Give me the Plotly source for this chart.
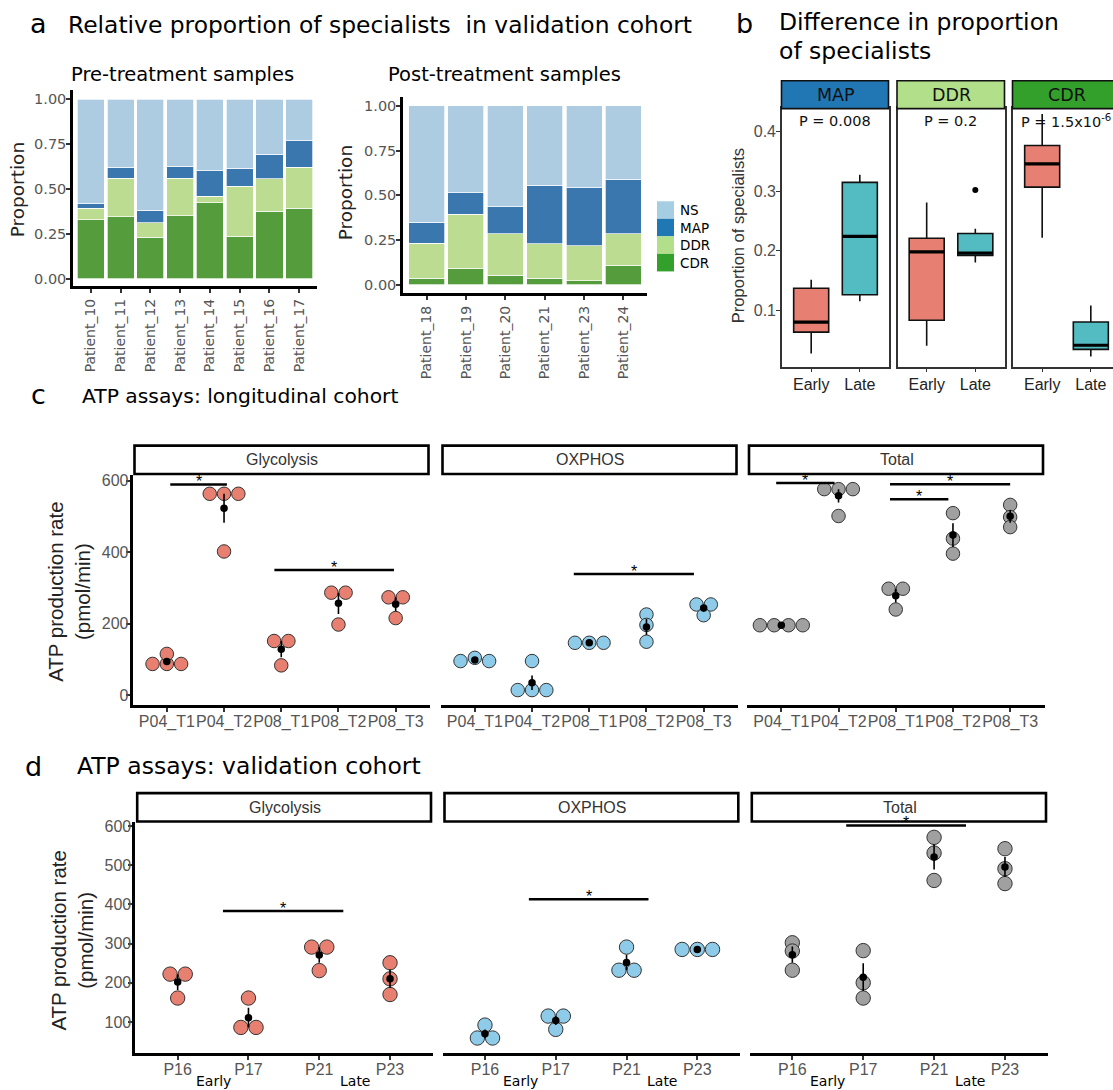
import math
import statistics
import plotly.graph_objects as go

W, H = 1113, 1090

# ---------------- data: panel a ----------------
stack_order = ["CDR", "DDR", "MAP", "NS"]
legend_order = ["NS", "MAP", "DDR", "CDR"]
pre_patients = ["Patient_10", "Patient_11", "Patient_12", "Patient_13",
                "Patient_14", "Patient_15", "Patient_16", "Patient_17"]
pre_CDR = [0.330, 0.346, 0.230, 0.350, 0.424, 0.237, 0.376, 0.393]
pre_DDR = [0.063, 0.213, 0.083, 0.209, 0.037, 0.278, 0.180, 0.229]
pre_MAP = [0.026, 0.063, 0.068, 0.067, 0.141, 0.100, 0.138, 0.148]
pre_NS = [0.581, 0.378, 0.619, 0.374, 0.398, 0.385, 0.306, 0.230]
post_patients = ["Patient_18", "Patient_19", "Patient_20", "Patient_21",
                 "Patient_23", "Patient_24"]
post_CDR = [0.035, 0.093, 0.052, 0.037, 0.022, 0.110]
post_DDR = [0.197, 0.301, 0.234, 0.192, 0.197, 0.176]
post_MAP = [0.116, 0.121, 0.149, 0.327, 0.324, 0.303]
post_NS = [0.652, 0.485, 0.565, 0.444, 0.457, 0.411]
proportion_ticks = [0, 0.25, 0.5, 0.75, 1.0]
proportion_ticktext = ["0.00", "0.25", "0.50", "0.75", "1.00"]

# ---------------- data: panel b (lowerfence, q1, median, q3, upperfence) ----------------
box_groups = ["Early", "Late"]
specialist_types = ["MAP", "DDR", "CDR"]
map_early = [0.027, 0.063, 0.080, 0.137, 0.151]
map_late = [0.115, 0.126, 0.224, 0.315, 0.328]
ddr_early = [0.040, 0.083, 0.198, 0.221, 0.281]
ddr_late = [0.180, 0.192, 0.196, 0.229, 0.237]
cdr_early = [0.222, 0.307, 0.346, 0.377, 0.430]
cdr_late = [0.022, 0.034, 0.041, 0.080, 0.108]
ddr_late_outliers = [0.302]
p_values = ["P = 0.008", "P = 0.2", "P = 1.5x10<sup>-6</sup>"]
b_ticks = [0.1, 0.2, 0.3, 0.4]

# ---------------- data: panel c (longitudinal) ----------------
c_samples = ["P04_T1", "P04_T2", "P08_T1", "P08_T2", "P08_T3"]
c_glyco = [[88, 88, 88, 116], [563, 563, 563, 402], [152, 152, 84], [287, 287, 198], [274, 274, 216]]
c_oxphos = [[96, 105, 96], [15, 15, 15, 96], [147, 147, 147], [226, 197, 150], [254, 254, 224]]
c_total = [[196, 196, 196, 196], [576, 576, 576, 501], [298, 298, 240], [509, 438, 396], [532, 498, 470]]
c_sig_glyco = [(1.06, 2.05, 589), (2.88, 4.97, 350)]
c_sig_oxphos = [(2.73, 4.83, 339)]
c_sig_total = [(0.91, 1.93, 593), (2.90, 5.00, 590), (2.90, 3.92, 548)]
c_yticks = [0, 200, 400, 600]

# ---------------- data: panel d (validation) ----------------
d_samples = ["P16", "P17", "P21", "P23"]
d_stage = ["Early", "Late"]
d_glyco = [[222, 222, 161], [161, 86, 86], [291, 291, 231], [251, 210, 170]]
d_oxphos = [[92, 59, 59], [115, 115, 81], [291, 232, 232], [285, 285, 285]]
d_total = [[302, 281, 232], [282, 200, 161], [571, 531, 461], [542, 491, 453]]
d_sig_glyco = [(1.64, 3.34, 383)]
d_sig_oxphos = [(1.62, 3.31, 413)]
d_sig_total = [(1.76, 3.45, 601)]
d_yticks = [100, 200, 300, 400, 500, 600]

facet_names = ["Glycolysis", "OXPHOS", "Total"]

# ---------------- styles ----------------
bar_colors = {"NS": "#ADCBE1", "MAP": "#3A77AF", "DDR": "#BCDD91", "CDR": "#559C3D"}
legend_colors = {"NS": "#A6CEE3", "MAP": "#1F78B4", "DDR": "#B2DF8A", "CDR": "#33A02C"}
strip_colors = {"MAP": "#2077B4", "DDR": "#B2DF8A", "CDR": "#33A02C"}
box_fill = {"Early": "#E77F73", "Late": "#53BCC2"}
dot_colors = {"Glycolysis": "#E88072", "OXPHOS": "#8ECBE8", "Total": "#A0A0A0"}
SANS = "Liberation Sans, Arial, sans-serif"
DEJA = "DejaVu Sans, Verdana, sans-serif"
TICK_GREY = "#555555"

fig = go.Figure()
layout = {}
shapes = []
annotations = []


def ax_names(i):
    s = "" if i == 1 else str(i)
    return "xaxis" + s, "yaxis" + s, "x" + s, "y" + s


def yrange_from(top, bot, va, pa, vb, pb):
    s = (pb - pa) / (vb - va)
    return [va + (bot - pa) / s, va + (top - pa) / s]


def add_axes(i, xpx, ypx, xr, yr, xkw, ykw):
    xn, yn, xs, ys = ax_names(i)
    base = dict(showgrid=False, zeroline=False, fixedrange=True)
    layout[xn] = dict(base, domain=[xpx[0] / W, xpx[1] / W], range=xr, anchor=ys, **xkw)
    layout[yn] = dict(base, domain=[1 - ypx[1] / H, 1 - ypx[0] / H], range=yr, anchor=xs, **ykw)
    return xs, ys


def text(x, y, s, size, family=SANS, color="#000", xanchor="center", yanchor="middle",
         angle=0, xref="paper", yref="paper", yshift=0):
    annotations.append(dict(
        x=x / W if xref == "paper" else x, y=(1 - y / H) if yref == "paper" else y,
        xref=xref, yref=yref, text=s, showarrow=False, xanchor=xanchor, yanchor=yanchor,
        textangle=angle, yshift=yshift, font=dict(size=size, family=family, color=color)))


# ================= panel a =================
def bar_panel(i, patients, data, xpx, top, bot, p1, p0):
    n = len(patients)
    yr = yrange_from(top, bot, 1.0, p1, 0.0, p0)
    xs, ys = add_axes(
        i, xpx, (top, bot), [-0.6, n - 0.4], yr,
        dict(tickvals=list(range(n)), ticktext=patients, tickangle=-90,
             tickfont=dict(size=14, family=DEJA, color=TICK_GREY),
             ticks="outside", ticklen=4, tickwidth=1.5, tickcolor="#333",
             showline=True, linewidth=2.5, linecolor="#000"),
        dict(tickvals=proportion_ticks, ticktext=proportion_ticktext,
             tickfont=dict(size=14.5, family=DEJA, color=TICK_GREY),
             ticks="outside", ticklen=4, tickwidth=1.5, tickcolor="#333",
             ticklabelstandoff=-3,
             showline=True, linewidth=2.5, linecolor="#000"))
    for seg in stack_order:
        fig.add_trace(go.Bar(x=list(range(n)), y=data[seg], xaxis=xs, yaxis=ys,
                             marker=dict(color=bar_colors[seg], line=dict(color="white", width=0.7)),
                             showlegend=False, hoverinfo="skip"))


bar_panel(1, pre_patients, {"CDR": pre_CDR, "DDR": pre_DDR, "MAP": pre_MAP, "NS": pre_NS},
          (73, 317), 86.7, 283.5, 95.7, 275.7)
bar_panel(2, post_patients, {"CDR": post_CDR, "DDR": post_DDR, "MAP": post_MAP, "NS": post_NS},
          (403, 647), 93.3, 290.5, 102.3, 281.7)

text(38, 20, "a", 27, DEJA)
text(66, 21, "Relative proportion of specialists\u00a0 in validation cohort", 23.4, DEJA, xanchor="left")
text(182, 71, "Pre-treatment samples", 19.5, DEJA)
text(504, 71, "Post-treatment samples", 19.5, DEJA)
text(17, 187, "Proportion", 18.5, DEJA, color="#222", angle=-90)
text(345, 190, "Proportion", 18.5, DEJA, color="#222", angle=-90)

# manual legend
for k, seg in enumerate(legend_order):
    yt = 198 + k * 17.6
    shapes.append(dict(type="rect", xref="paper", yref="paper",
                       x0=657 / W, x1=674 / W, y0=1 - (yt + 17.6) / H, y1=1 - yt / H,
                       fillcolor=legend_colors[seg], line=dict(width=0)))
    text(678, yt + 9, seg, 13.5, DEJA, xanchor="left")

# ================= panel b =================
b_boxes = {"MAP": [map_early, map_late], "DDR": [ddr_early, ddr_late], "CDR": [cdr_early, cdr_late]}
b_panels = [(782, 889), (897.5, 1005), (1013, 1113)]
b_full_w = 107.0
b_top, b_bot = 104.7, 364
b_yr = yrange_from(b_top, b_bot, 0.4, 128.3, 0.1, 307.3)
for k, name in enumerate(specialist_types):
    i = 3 + k
    x0, x1 = b_panels[k]
    xr = [0.4, 0.4 + 2.2 * (x1 - x0) / b_full_w]
    last = (k == 2)
    xs, ys = add_axes(
        i, (x0, x1), (b_top, b_bot), xr, b_yr,
        dict(tickvals=[1, 2], ticktext=box_groups,
             tickfont=dict(size=16, family=SANS, color="#222"),
             ticks="outside", ticklen=4, tickwidth=1.3, tickcolor="#333",
             ticklabelstandoff=-2,
             showline=True, mirror=True, linewidth=1.6, linecolor="#333"),
        dict(tickvals=b_ticks, showticklabels=(k == 0),
             tickfont=dict(size=16, family=SANS, color="#4D4D4D"),
             ticks="outside" if k == 0 else "", ticklen=4, tickwidth=1.3, tickcolor="#333",
             ticklabelstandoff=-3,
             showline=True, mirror=not last, linewidth=1.6, linecolor="#333"))
    for g, grp in enumerate(box_groups):
        lo, q1, med, q3, hi = b_boxes[name][g]
        xc = g + 1
        fig.add_trace(go.Box(x=[xc], q1=[q1], median=[med], q3=[q3], lowerfence=[lo],
                             upperfence=[hi], width=0.72, whiskerwidth=0, boxpoints=False,
                             fillcolor=box_fill[grp], line=dict(color="#111", width=1.6),
                             xaxis=xs, yaxis=ys, showlegend=False, hoverinfo="skip"))
        fig.add_trace(go.Scatter(x=[xc - 0.36, xc + 0.36], y=[med, med], mode="lines",
                                 line=dict(color="#000", width=3.2), xaxis=xs, yaxis=ys,
                                 showlegend=False, hoverinfo="skip"))
    if name == "DDR":
        fig.add_trace(go.Scatter(x=[2] * len(ddr_late_outliers), y=ddr_late_outliers, mode="markers",
                                 marker=dict(color="#000", size=6), xaxis=xs, yaxis=ys,
                                 showlegend=False, hoverinfo="skip"))
    # strip
    shapes.append(dict(type="rect", xref="paper", yref="paper",
                       x0=(x0 - 0.5) / W, x1=(x1 - 0.5 if not last else x0 + b_full_w) / W,
                       y0=1 - 105 / H, y1=1 - 77 / H, fillcolor=strip_colors[name],
                       line=dict(color="#111", width=1.6), layer="above"))
    cx = (x0 + x0 + b_full_w) / 2
    text(cx, 91, name, 17.5, DEJA, color="#111")
    text(cx - 1, 117, p_values[k], 14.5, DEJA, color="#111")

text(744, 20, "b", 27, DEJA)
text(777, 18, "Difference in proportion", 23.5, DEJA, xanchor="left")
text(777, 47, "of specialists", 23.5, DEJA, xanchor="left")
text(738, 233, "Proportion of specialists", 16.5, SANS, color="#333", angle=-90)


# ================= panels c & d =================
def dot_offsets(vals, ppu_y, ppu_x, spacing_px, thr_px=7.0):
    order = sorted(range(len(vals)), key=lambda j: vals[j])
    bins, cur, start = [], [order[0]], vals[order[0]]
    for j in order[1:]:
        if (vals[j] - start) * ppu_y < thr_px:
            cur.append(j)
        else:
            bins.append(cur)
            cur, start = [j], vals[j]
    bins.append(cur)
    offs = [0.0] * len(vals)
    for b in bins:
        b = sorted(b)
        for m, j in enumerate(b):
            offs[j] = (m - (len(b) - 1) / 2) * spacing_px / ppu_x
    return offs


def dot_panel(i, samples, groups, sigs, facet, xpx, top, bot, ymap, yticks, first, dot_px):
    n = len(samples)
    xr = [0.4, n + 0.6]
    yr = yrange_from(top, bot, *ymap)
    ppu_x = (xpx[1] - xpx[0]) / (xr[1] - xr[0])
    ppu_y = (bot - top) / (yr[1] - yr[0])
    xs, ys = add_axes(
        i, xpx, (top, bot), xr, yr,
        dict(tickvals=list(range(1, n + 1)), ticktext=samples, tickangle=0,
             tickfont=dict(size=16, family=SANS, color=TICK_GREY),
             ticks="outside", ticklen=4, tickwidth=1.5, tickcolor="#333",
             ticklabelstandoff=-4,
             showline=True, linewidth=2.6, linecolor="#000"),
        dict(tickvals=yticks, showticklabels=first,
             tickfont=dict(size=16, family=SANS, color=TICK_GREY),
             ticks="outside" if first else "", ticklen=4, tickwidth=1.5, tickcolor="#333",
             ticklabelstandoff=-6,
             showline=first, linewidth=2.6, linecolor="#000"))
    xs_all, ys_all, mx, my, se = [], [], [], [], []
    for c, vals in enumerate(groups):
        offs = dot_offsets(vals, ppu_y, ppu_x, dot_px)
        xs_all += [c + 1 + o for o in offs]
        ys_all += vals
        mx.append(c + 1)
        my.append(statistics.mean(vals))
        se.append(statistics.stdev(vals) / math.sqrt(len(vals)))
    fig.add_trace(go.Scatter(x=xs_all, y=ys_all, mode="markers", xaxis=xs, yaxis=ys,
                             marker=dict(size=dot_px - 0.8, color=dot_colors[facet],
                                         line=dict(color="#333", width=1)),
                             cliponaxis=False, showlegend=False, hoverinfo="skip"))
    fig.add_trace(go.Scatter(x=mx, y=my, mode="markers", xaxis=xs, yaxis=ys,
                             marker=dict(size=7.5, color="#000"),
                             error_y=dict(type="data", array=se, symmetric=True, color="#000",
                                          thickness=1.6, width=0),
                             cliponaxis=False, showlegend=False, hoverinfo="skip"))
    for (a, b, y) in sigs:
        fig.add_trace(go.Scatter(x=[a, b], y=[y, y], mode="lines", xaxis=xs, yaxis=ys,
                                 line=dict(color="#000", width=2.5), cliponaxis=False,
                                 showlegend=False, hoverinfo="skip"))
        text((a + b) / 2, y, "*", 16, SANS, xref=xs, yref=ys, yshift=3)
    # strip
    shapes.append(dict(type="rect", xref="paper", yref="paper",
                       x0=(xpx[0] + 2) / W, x1=(xpx[1] - 1.5) / W,
                       y0=1 - (top - 0.5) / H, y1=1 - (top - 29) / H,
                       fillcolor="white", line=dict(color="#000", width=2.6), layer="above"))
    text((xpx[0] + xpx[1]) / 2 + 1, top - 15, facet, 16, SANS, color="#333")
    return xs


c_x = [(132.5, 430), (440.5, 738), (747, 1044.5)]
c_groups = [c_glyco, c_oxphos, c_total]
c_sigs = [c_sig_glyco, c_sig_oxphos, c_sig_total]
for k in range(3):
    dot_panel(6 + k, c_samples, c_groups[k], c_sigs[k], facet_names[k], c_x[k],
              472.3, 703.3, (600, 478.3, 0, 694), c_yticks, k == 0, 14.3)

d_x = [(135.2, 432.5), (442.5, 739.8), (749.8, 1047.5)]
d_groups = [d_glyco, d_oxphos, d_total]
d_sigs = [d_sig_glyco, d_sig_oxphos, d_sig_total]
for k in range(3):
    xs = dot_panel(9 + k, d_samples, d_groups[k], d_sigs[k], facet_names[k], d_x[k],
                   821, 1052.7, (600, 825, 100, 1021.7), d_yticks, k == 0, 15.2)
    for s, stage in enumerate(d_stage):
        annotations.append(dict(x=1.5 + 2 * s, y=0, xref=xs, yref="paper",
                                yanchor="bottom", yshift=-1,
                                text=stage, showarrow=False,
                                font=dict(size=14, family=DEJA, color="#000")))

text(38, 392, "c", 27, DEJA)
text(80, 393, "ATP assays: longitudinal cohort", 20.3, DEJA, xanchor="left")
text(69, 590, "ATP production rate<br>(pmol/min)", 20.5, SANS, color="#222", angle=-90)
text(33, 765, "d", 27, DEJA)
text(75, 765, "ATP assays: validation cohort", 23.5, DEJA, xanchor="left")
text(72, 940, "ATP production rate<br>(pmol/min)", 20.5, SANS, color="#222", angle=-90)

fig.update_layout(**layout)
fig.update_layout(width=W, height=H, autosize=False, margin=dict(l=0, r=0, t=0, b=0),
                  paper_bgcolor="white", plot_bgcolor="white", showlegend=False,
                  barmode="stack", bargap=0.085, shapes=shapes, annotations=annotations,
                  font=dict(family=SANS))
fig.write_html("out.html", config={"displayModeBar": False},
               post_script="document.body.style.margin='0px';")
